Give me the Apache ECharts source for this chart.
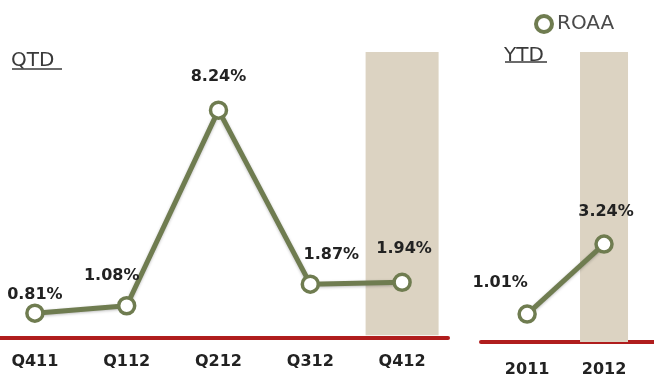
<!DOCTYPE html>
<html>
<head>
<meta charset="utf-8">
<script src="https://cdn.jsdelivr.net/npm/echarts@6/dist/echarts.min.js"></script>
<style>
  html, body { margin: 0; padding: 0; background: #ffffff; }
  #main { width: 654px; height: 385px; }
</style>
</head>
<body>
<div id="main"></div>
<script>
// Quarter-to-date return on average assets
const quarters = ['Q411', 'Q112', 'Q212', 'Q312', 'Q412'];
const quarterRoaa = [0.81, 1.08, 8.24, 1.87, 1.94];

// Year-to-date return on average assets
const years = ['2011', '2012'];
const yearRoaa = [1.01, 3.24];

const seriesName = 'ROAA';
const highlightQuarter = 'Q412';
const highlightYear = '2012';

// Layout & style
const GREEN = '#6f7c50';
const SHADE = '#dcd3c2';
const RED = '#b01d1d';
const LABEL_FONT = 'DejaVu Sans';

// index-based x ranges (categories sit on integer positions)
const qX = { min: -0.38, max: 4.5 };
const yX = { min: -0.6, max: 1.65 };
const qAxis = { min: -0.1, max: 10.37 };
const yAxisRange = { min: 0.12, max: 9.36 };

// per-point label offsets (dx, dy) from the marker centre
const quarterLabelOffsets = [[0, -18], [-15, -30], [0, -33], [21, -29], [2, -33]];
const yearLabelOffsets = [[-27, -31], [2, -32]];

const pct = v => v.toFixed(2) + '%';

const lineStyleBase = {
  type: 'line',
  name: seriesName,
  symbol: 'circle',
  symbolSize: 16,
  z: 5,
  lineStyle: { color: GREEN, width: 5, shadowBlur: 3, shadowColor: 'rgba(0,0,0,0.25)', shadowOffsetY: 1 },
  itemStyle: { color: '#ffffff', borderColor: GREEN, borderWidth: 3.5 },
  emphasis: { disabled: true }
};

const labelStyle = (off) => ({
  show: true,
  position: 'inside',
  offset: off,
  fontFamily: LABEL_FONT,
  fontWeight: 'bold',
  fontSize: 16,
  color: '#222222',
  formatter: p => pct(p.value[1])
});

const catAxis = (gridIndex, range, names, margin) => ({
  gridIndex,
  type: 'value',
  min: range.min,
  max: range.max,
  splitLine: { show: false },
  axisLine: { onZero: false, lineStyle: { color: RED, width: 4 } },
  axisTick: { show: false },
  axisLabel: {
    customValues: names.map((_, i) => i),
    formatter: v => names[Math.round(v)] || '',
    margin, fontFamily: LABEL_FONT, fontWeight: 'bold', fontSize: 16, color: '#222222'
  }
});

const qHighlight = quarters.indexOf(highlightQuarter);
const yHighlight = years.indexOf(highlightYear);

const option = {
  animation: false,
  backgroundColor: '#ffffff',
  title: [
    { text: 'QTD', left: 6, top: 46, textStyle: { fontFamily: 'DejaVu Sans', fontWeight: 'normal', fontSize: 20, color: '#3a3a3a' } },
    { text: 'YTD', left: 499, top: 41, textStyle: { fontFamily: 'DejaVu Sans', fontWeight: 'normal', fontSize: 20, color: '#3a3a3a' } }
  ],
  legend: {
    left: 529,
    top: 9,
    itemWidth: 16,
    itemHeight: 16,
    itemGap: 6,
    textStyle: { fontFamily: 'DejaVu Sans', fontSize: 20, color: '#4a4a4a' },
    data: [{ name: seriesName, icon: 'circle', itemStyle: { color: '#ffffff', borderColor: GREEN, borderWidth: 4 } }]
  },
  graphic: [
    { type: 'line', shape: { x1: 12, y1: 69, x2: 62, y2: 69 }, style: { stroke: '#3a3a3a', lineWidth: 1.5 } },
    { type: 'line', shape: { x1: 505, y1: 62, x2: 547, y2: 62 }, style: { stroke: '#3a3a3a', lineWidth: 1.5 } }
  ],
  grid: [
    { left: 0, width: 448, top: 52, height: 286 },
    { left: 481, width: 173, top: 52, height: 290 }
  ],
  xAxis: [
    catAxis(0, qX, quarters, 16),
    catAxis(1, yX, years, 20)
  ],
  yAxis: [
    { gridIndex: 0, type: 'value', min: qAxis.min, max: qAxis.max, show: false, splitLine: { show: false } },
    { gridIndex: 1, type: 'value', min: yAxisRange.min, max: yAxisRange.max, show: false, splitLine: { show: false } }
  ],
  series: [
    {
      type: 'bar',
      name: 'qShade',
      xAxisIndex: 0, yAxisIndex: 0,
      barWidth: 73,
      z: 1,
      itemStyle: { color: SHADE },
      emphasis: { disabled: true },
      data: [[qHighlight, qAxis.max]]
    },
    {
      type: 'bar',
      name: 'yShade',
      xAxisIndex: 1, yAxisIndex: 1,
      barWidth: 48,
      z: 1,
      itemStyle: { color: SHADE },
      emphasis: { disabled: true },
      data: [[yHighlight, yAxisRange.max]]
    },
    Object.assign({}, lineStyleBase, {
      xAxisIndex: 0, yAxisIndex: 0,
      data: quarterRoaa.map((v, i) => ({ value: [i, v], label: labelStyle(quarterLabelOffsets[i]) }))
    }),
    Object.assign({}, lineStyleBase, {
      xAxisIndex: 1, yAxisIndex: 1,
      data: yearRoaa.map((v, i) => ({ value: [i, v], label: labelStyle(yearLabelOffsets[i]) }))
    })
  ]
};

const chart = echarts.init(document.getElementById('main'), null, { renderer: 'canvas' });
chart.setOption(option);
</script>
</body>
</html>
